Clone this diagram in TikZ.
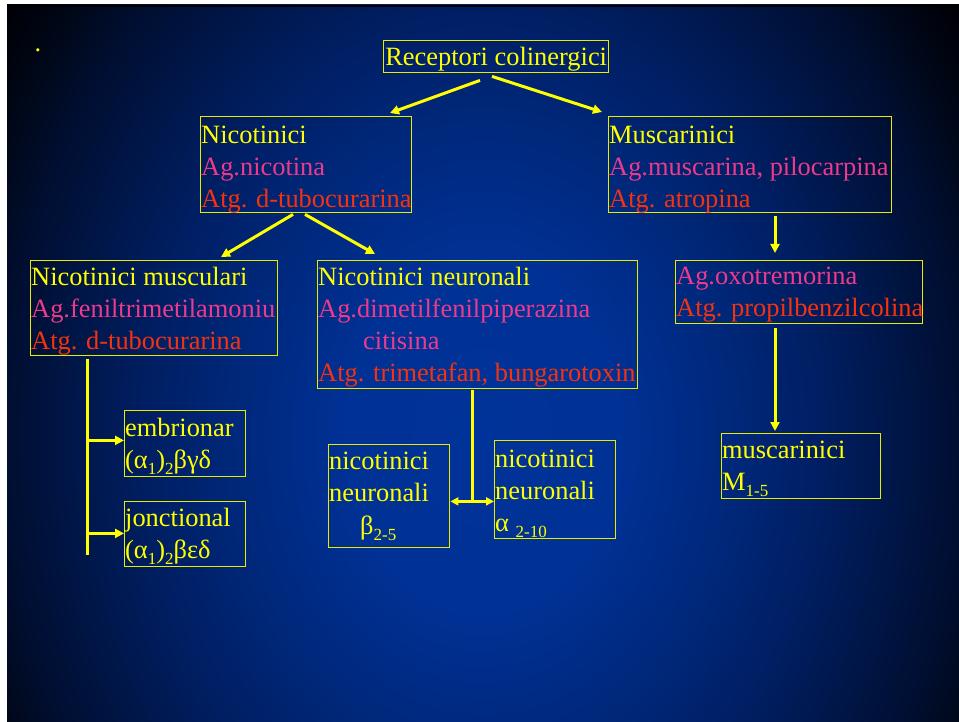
\documentclass[tikz,border=0pt]{standalone}
\usepackage{fontspec}
\setmainfont{Liberation Serif}
\usetikzlibrary{arrows.meta,calc}
\definecolor{ty}{RGB}{255,255,0}
\definecolor{tp}{RGB}{238,58,140}
\definecolor{tr}{RGB}{245,50,15}
\definecolor{bx}{RGB}{235,235,0}
\pgfdeclareradialshading{slidebg}{\pgfpointorigin}{rgb(0bp)=(0,0.2,0.6); rgb(143bp)=(0,0.19,0.58); rgb(238bp)=(0,0.16,0.49); rgb(333bp)=(0,0.12,0.39); rgb(428bp)=(0,0.08,0.26); rgb(476bp)=(0,0.055,0.19); rgb(524bp)=(0,0.03,0.1); rgb(581bp)=(0,0,0.02); rgb(676bp)=(0,0,0)}
\newcommand\Pk[1]{\textcolor{tp}{#1}}
\newcommand\Rd[1]{\textcolor{tr}{#1}}
\newcommand\sbs[1]{\raisebox{-6pt}{\fontsize{17}{17}\selectfont #1}}
\newcommand\tstrut{\rule{0pt}{22pt}}
\begin{document}
\begin{tikzpicture}[x=1pt,y=-1pt,
  box/.style={draw=bx, line width=1.4pt, anchor=north west, inner sep=0pt},
  txt/.style={anchor=north west, inner sep=0pt, align=left, font=\fontsize{26.4}{32}\selectfont, text=ty},
  arr/.style={draw=ty, line width=3pt, -{Triangle[length=9pt,width=9pt]}},
  darr/.style={draw=ty, line width=3pt, {Triangle[length=8pt,width=8pt]}-{Triangle[length=8pt,width=8pt]}},
  ln/.style={draw=ty, line width=3pt}]
\useasboundingbox (0,0) rectangle (959,722);
\fill[white] (0,0) rectangle (959,722);
\begin{scope}
  \clip (7,5) rectangle (959,722);
  \fill[black] (7,5) rectangle (959,722);
  \begin{pgfscope}
    \pgflowlevel{\pgftransformshift{\pgfpoint{483pt}{-437pt}}}
    \pgflowlevel{\pgftransformyscale{1.275}}
    \pgfuseshading{slidebg}
  \end{pgfscope}
  \fill[black] (7,5) rectangle (959,7);
\end{scope}

\node[anchor=base west, inner sep=0pt, text=ty, font=\fontsize{26.4}{32}\selectfont] (dot) at (34.5,52) {.};

% boxes
\node[box, minimum width=225pt, minimum height=32pt] (root) at (383,40) {};
\node[box, minimum width=211pt, minimum height=96pt] (nic) at (200,116) {};
\node[box, minimum width=283pt, minimum height=96pt] (mus) at (608,116) {};
\node[box, minimum width=247pt, minimum height=95pt] (musc) at (30,260) {};
\node[box, minimum width=320pt, minimum height=128pt] (neur) at (317,260) {};
\node[box, minimum width=247pt, minimum height=63pt] (oxo) at (675,260) {};
\node[box, minimum width=159pt, minimum height=65pt] (m15) at (721,433) {};
\node[box, minimum width=121pt, minimum height=66pt] (emb) at (124,410) {};
\node[box, minimum width=121pt, minimum height=65pt] (jon) at (124,501) {};
\node[box, minimum width=121pt, minimum height=103pt] (nb) at (328,444) {};
\node[box, minimum width=121pt, minimum height=98pt] (na) at (494,440) {};

% texts
\node[txt, anchor=base] (roott) at ($(root.north)+(0,26)$) {Receptori colinergici};
\node[txt] (nict) at ($(nic.north west)+(1,5)$) {\tstrut Nicotinici\\ \Pk{Ag.nicotina}\\ \Rd{Atg. d-tubocurarina}};
\node[txt] (must) at ($(mus.north west)+(1,5)$) {\tstrut Muscarinici\\ \Pk{Ag.muscarina, pilocarpina}\\ \Rd{Atg. atropina}};
\node[txt] (musct) at ($(musc.north west)+(1,3)$) {\tstrut Nicotinici musculari\\ \Pk{Ag.feniltrimetilamoniu}\\ \Rd{Atg. d-tubocurarina}};
\node[txt] (neurt) at ($(neur.north west)+(1,3)$) {\tstrut Nicotinici neuronali\\ \Pk{Ag.dimetilfenilpiperazina}\\ \Pk{\hspace*{45pt}citisina}\\ \Rd{Atg. trimetafan, bungarotoxin}};
\node[txt] (oxot) at ($(oxo.north west)+(1,2)$) {\tstrut\Pk{Ag.oxotremorina}\\ \Rd{Atg. propilbenzilcolina}};
\node[txt] (m15t) at ($(m15.north west)+(1,3)$) {\tstrut muscarinici\\ M\sbs{1-5}};
\node[txt] (embt) at ($(emb.north west)+(1,4)$) {\tstrut embrionar\\ (α\sbs{1})\sbs{2}βγδ};
\node[txt] (jont) at ($(jon.north west)+(1,3)$) {\tstrut jonctional\\ (α\sbs{1})\sbs{2}βεδ};
\node[txt] (nbt) at ($(nb.north west)+(1,3)$) {\tstrut nicotinici\\ neuronali\\[1pt] \hspace*{31pt}β\sbs{2-5}};
\node[txt] (nat) at ($(na.north west)+(1,5)$) {\tstrut nicotinici\\ neuronali\\ α \sbs{2-10}};

% connectors
\draw[arr] ($(root.south west)+(97,7)$) -- ($(nic.north west)+(190,-3)$);
\draw[arr] ($(root.south west)+(109,3)$) -- ($(mus.north west)+(-6,-4)$);
\draw[arr] ($(nic.south west)+(93,1)$) -- ($(musc.north west)+(191,-3)$);
\draw[arr] ($(nic.south west)+(105,1)$) -- ($(neur.north west)+(58,-6)$);
\draw[arr] ($(mus.south west)+(167,3)$) -- ($(oxo.north west)+(100,-7)$);
\draw[arr] ($(oxo.south west)+(100,4)$) -- ($(m15.north west)+(54,-2)$);

\coordinate (lt) at ($(musc.south west)+(57,3)$);
\coordinate (lb) at ($(musc.south west)+(57,199)$);
\coordinate (le) at ($(musc.south west)+(57,84)$);
\coordinate (lj) at ($(musc.south west)+(57,177)$);
\draw[ln] (lt) -- (lb);
\draw[arr] (le) -- (emb.west |- le);
\draw[arr] (lj) -- (jon.west |- lj);

\coordinate (mt) at ($(neur.south west)+(155,1)$);
\coordinate (mb) at ($(neur.south west)+(155,112)$);
\draw[ln] (mt) -- (mb);
\draw[darr] (nb.east |- mb) -- (na.west |- mb);
\end{tikzpicture}
\end{document}
